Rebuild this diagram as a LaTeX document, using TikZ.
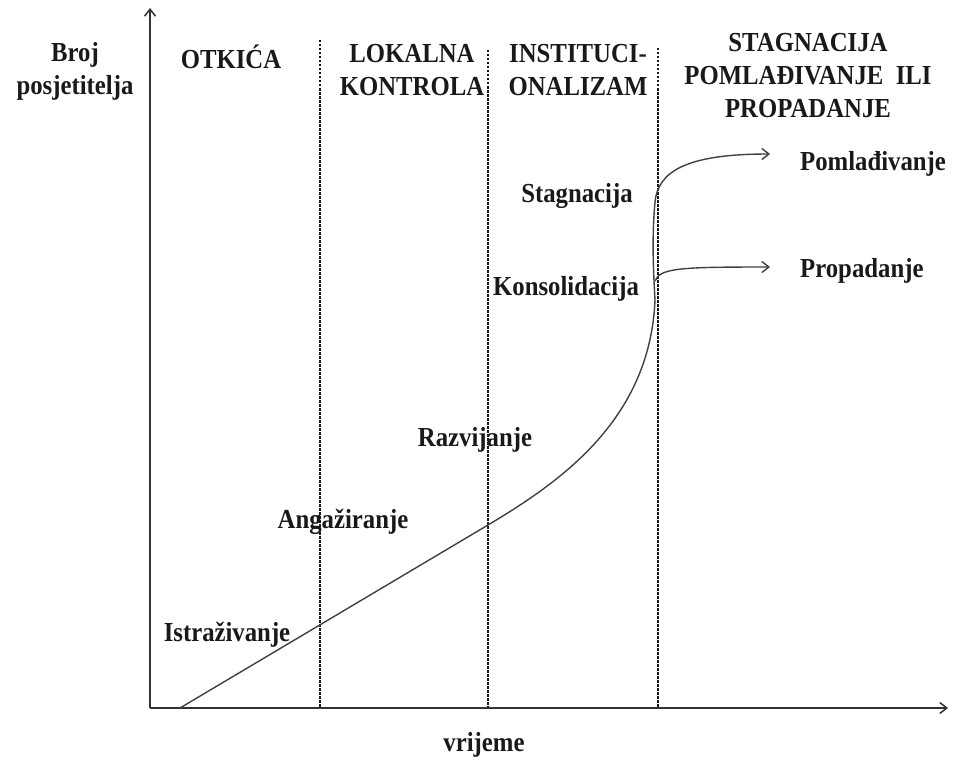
\documentclass[tikz,border=0pt]{standalone}
\usepackage{fontspec}
\setmainfont{Liberation Serif}
\newfontfamily\lblfont{Liberation Serif}[FakeStretch=0.9]
\usetikzlibrary{arrows.meta}
\begin{document}
\begin{tikzpicture}[x=1pt,y=-1pt,
  lbl/.style={font=\lblfont\fontsize{27.5}{33}\selectfont\bfseries, text=black!90, inner sep=0pt, align=center},
  axisline/.style={line width=1.5pt, draw=black!80, -{Straight Barb[length=7pt,width=11pt]}},
  divider/.style={line width=1.3pt, draw=black!90, dash pattern=on 2.5pt off 1.5pt},
  curveline/.style={line width=1.4pt, draw=black!75},
  tipped/.style={-{Straight Barb[length=7pt,width=11pt]}}]
\useasboundingbox (0,0) rectangle (956,760);
% axes
\coordinate (O) at (150,708);
\coordinate (Yend) at (150,8);
\coordinate (Xend) at (948,708);
\draw[axisline] (O) -- (Yend);
\draw[axisline] (O) -- (Xend);
% dividers
\coordinate (d1t) at (320,40);  \coordinate (d1b) at (320,708);
\coordinate (d2t) at (488,50);  \coordinate (d2b) at (488,708);
\coordinate (d3t) at (658,48);  \coordinate (d3b) at (658,708);
\draw[divider] (d1t) -- (d1b);
\draw[divider] (d2t) -- (d2b);
\draw[divider] (d3t) -- (d3b);
% headers
\node[lbl] (ylab) at (75,71) {Broj\\posjetitelja};
\node[lbl] (h1) at (231,57) {OTKIĆA};
\node[lbl] (h2) at (412,70) {LOKALNA\\KONTROLA};
\node[lbl] (h3) at (578,70) {INSTITUCI-\\ONALIZAM};
\node[lbl] (h4) at (808,76) {STAGNACIJA\\POMLAĐIVANJE~ ILI\\PROPADANJE};
\node[lbl] (xlab) at (484,745) {vrijeme};
% stage labels
\node[lbl] (s1) at (227,635) {Istraživanje};
\node[lbl] (s2) at (343,522) {Angažiranje};
\node[lbl] (s3) at (475,440) {Razvijanje};
\node[lbl] (s4) at (566,289) {Konsolidacija};
\node[lbl] (s5) at (577,196) {Stagnacija};
\node[lbl, anchor=west] (o1) at (800,164) {Pomlađivanje};
\node[lbl, anchor=west] (o2) at (800,271) {Propadanje};
% curve
\coordinate (c0) at (180,708);
\coordinate (c1) at (488,525);
\coordinate (c2) at (655,300);
\coordinate (c3) at (655,202);
\coordinate (up) at (770,154);
\coordinate (lo0) at (655,281);
\coordinate (lo) at (770,267);
\draw[curveline, tipped] (c0) -- (c1) .. controls (560,482) and (650,420) .. (c2)
  .. controls (653,265) and (652,235) .. (c3)
  .. controls (658,172) and (685,154) .. (up);
\draw[curveline, tipped] (lo0) .. controls (660,268) and (680,267) .. (lo);
\end{tikzpicture}
\end{document}
